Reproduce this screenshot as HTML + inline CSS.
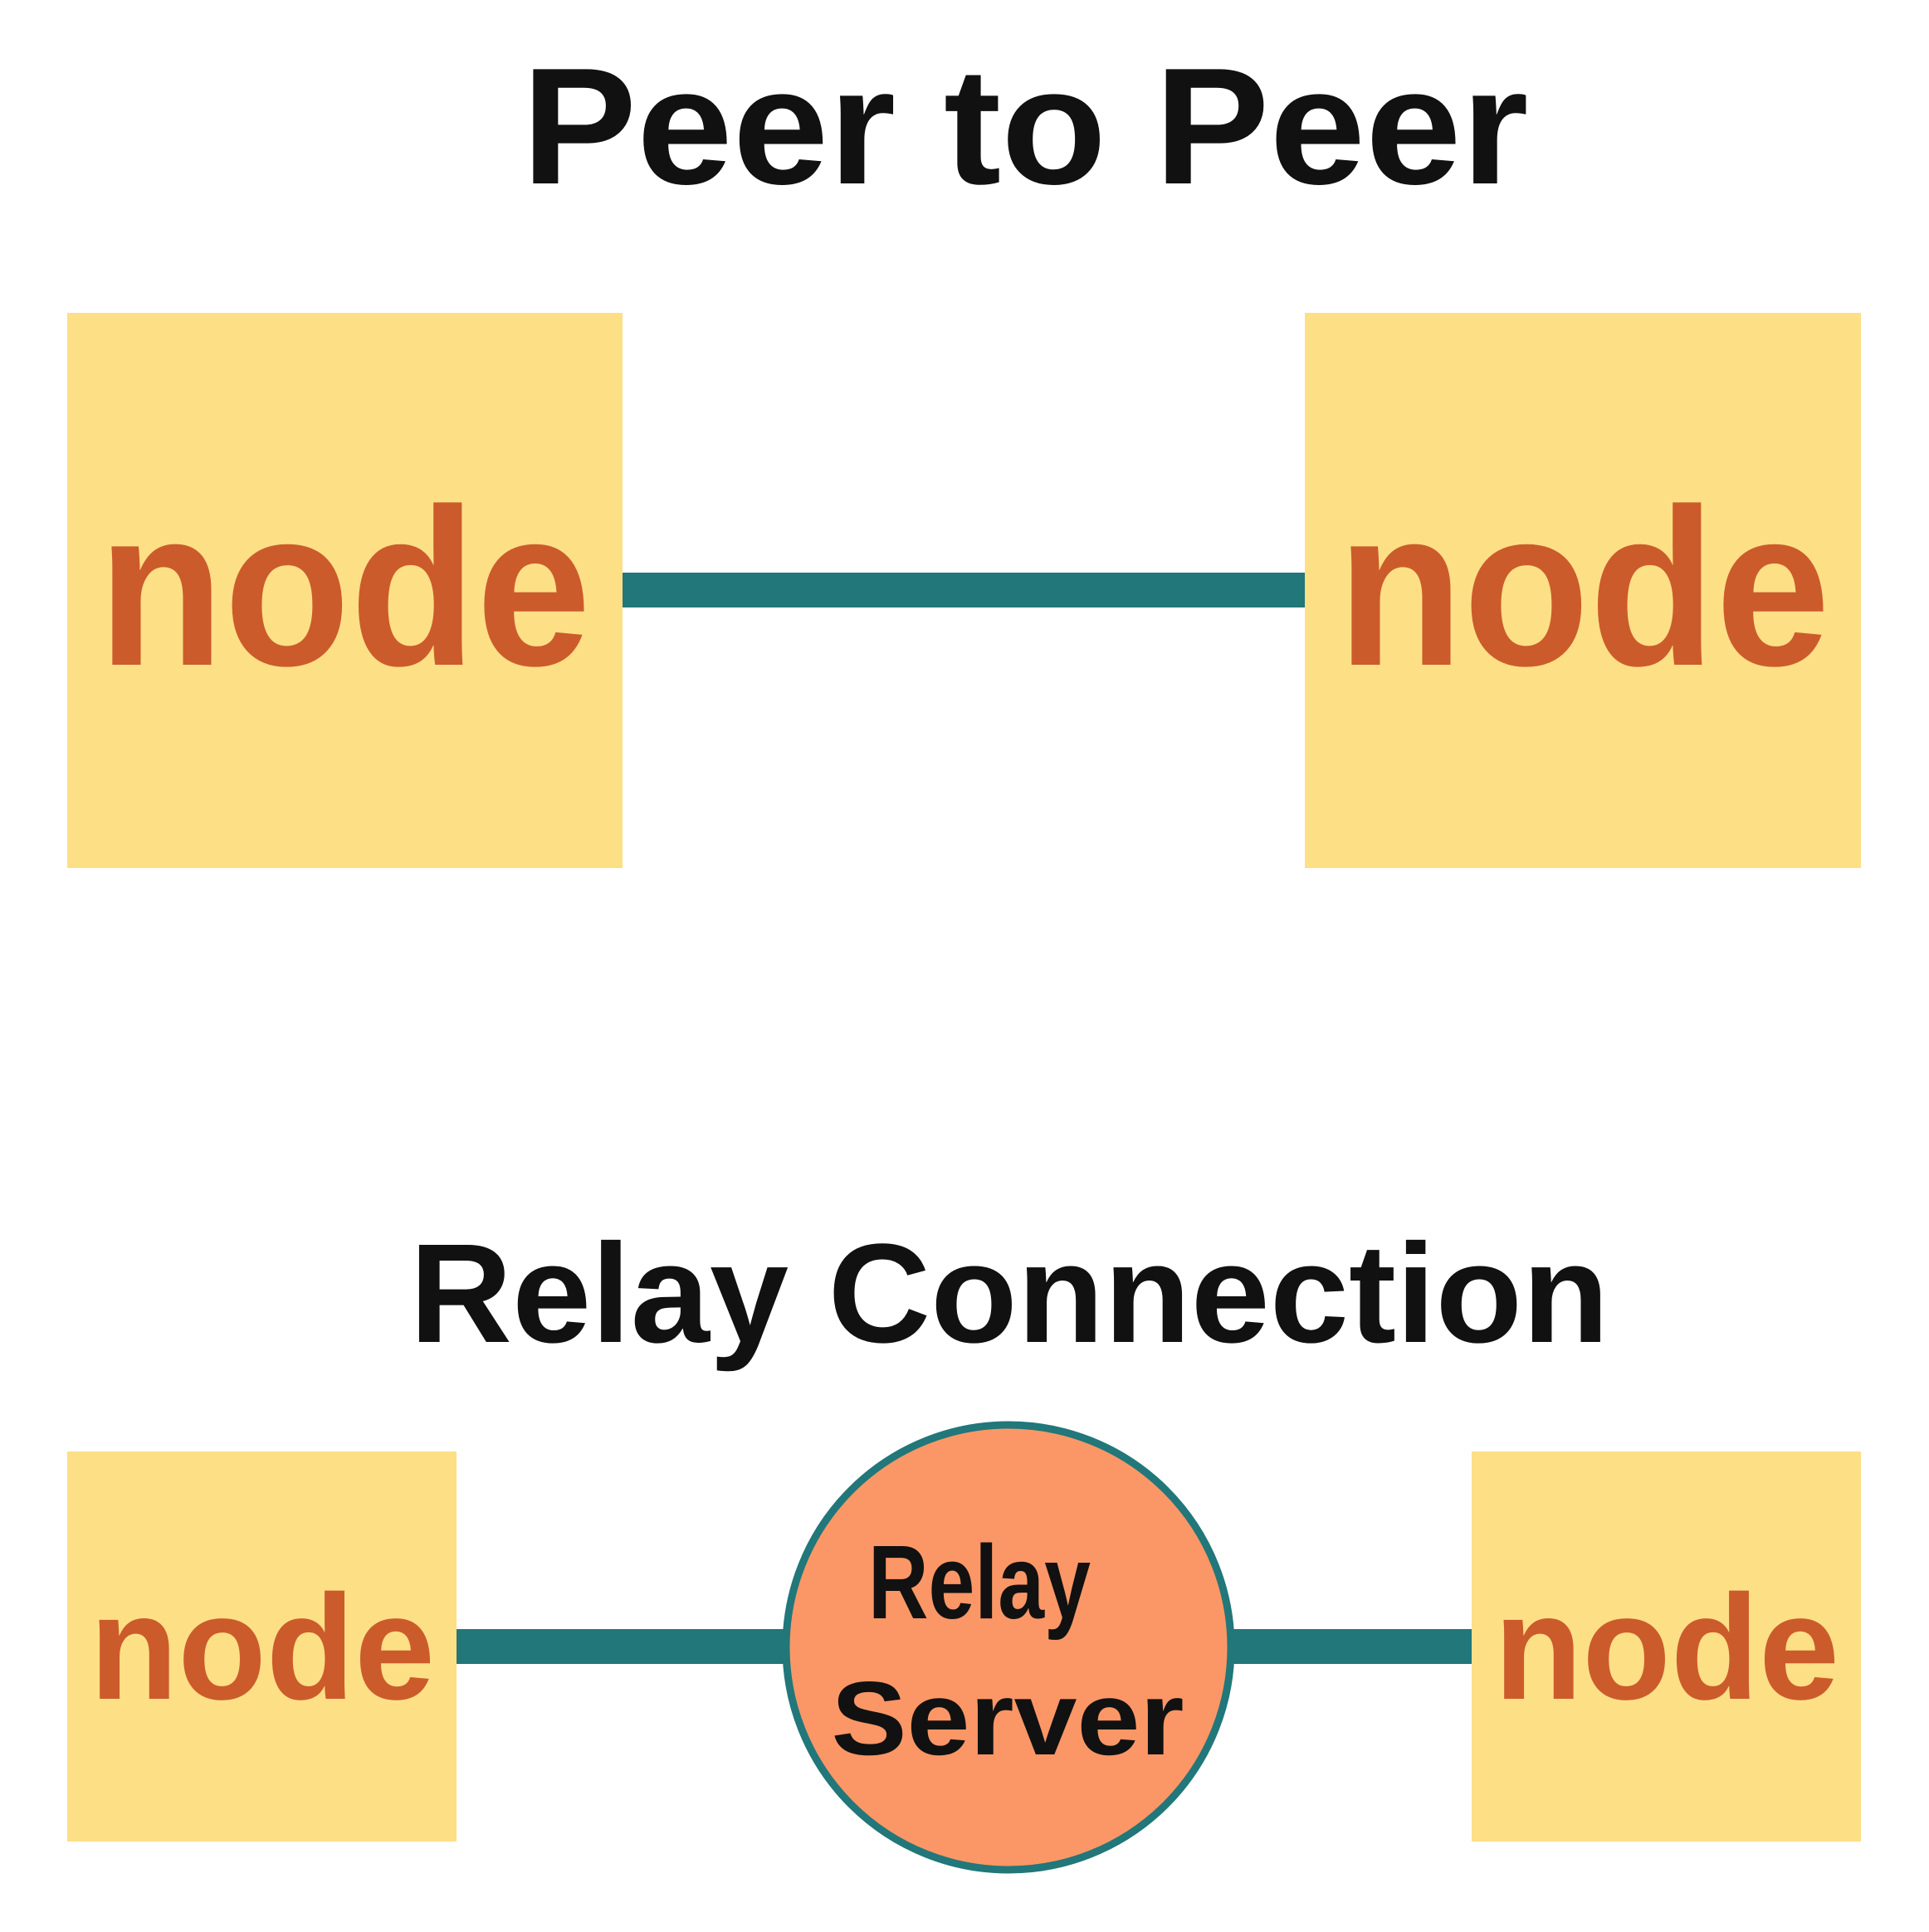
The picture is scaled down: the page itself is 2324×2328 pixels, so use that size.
<!DOCTYPE html>
<html><head><meta charset="utf-8"><style>html,body{margin:0;padding:0;background:#fff}svg{display:block}</style></head>
<body>
<svg width="2324" height="2328" viewBox="0 0 2324 2328" xmlns="http://www.w3.org/2000/svg" font-family="Liberation Sans, sans-serif" font-weight="bold">
<rect width="2324" height="2328" fill="#fff"/>
<text x="1235" y="221" font-size="200" fill="#111" text-anchor="middle" textLength="1213" lengthAdjust="spacingAndGlyphs">Peer to Peer</text>
<rect x="749" y="690" width="824" height="42" fill="#21777A"/>
<rect x="81" y="377" width="669" height="669" fill="#FDDF86"/>
<rect x="1572" y="377" width="670" height="669" fill="#FDDF86"/>
<text x="415" y="801" font-size="270" fill="#CC5B2B" text-anchor="middle" textLength="594" lengthAdjust="spacingAndGlyphs">node</text>
<text x="1908" y="801" font-size="270" fill="#CC5B2B" text-anchor="middle" textLength="594" lengthAdjust="spacingAndGlyphs">node</text>
<text x="1216" y="1617" font-size="170" fill="#111" text-anchor="middle" textLength="1445" lengthAdjust="spacingAndGlyphs">Relay Connection</text>
<rect x="550" y="1963" width="1223" height="42" fill="#21777A"/>
<rect x="81" y="1749" width="469" height="470" fill="#FDDF86"/>
<rect x="1773" y="1749" width="469" height="470" fill="#FDDF86"/>
<text x="316" y="2047" font-size="180" fill="#CC5B2B" text-anchor="middle" textLength="416" lengthAdjust="spacingAndGlyphs">node</text>
<text x="2008" y="2047" font-size="180" fill="#CC5B2B" text-anchor="middle" textLength="416" lengthAdjust="spacingAndGlyphs">node</text>
<circle cx="1215" cy="1985" r="268" fill="#FB9766" stroke="#21777A" stroke-width="9"/>
<text x="1180" y="1950" font-size="126" fill="#111" text-anchor="middle" textLength="268" lengthAdjust="spacingAndGlyphs">Relay</text>
<text x="1214" y="2114" font-size="126" fill="#111" text-anchor="middle" textLength="425" lengthAdjust="spacingAndGlyphs">Server</text>
</svg>
</body></html>
